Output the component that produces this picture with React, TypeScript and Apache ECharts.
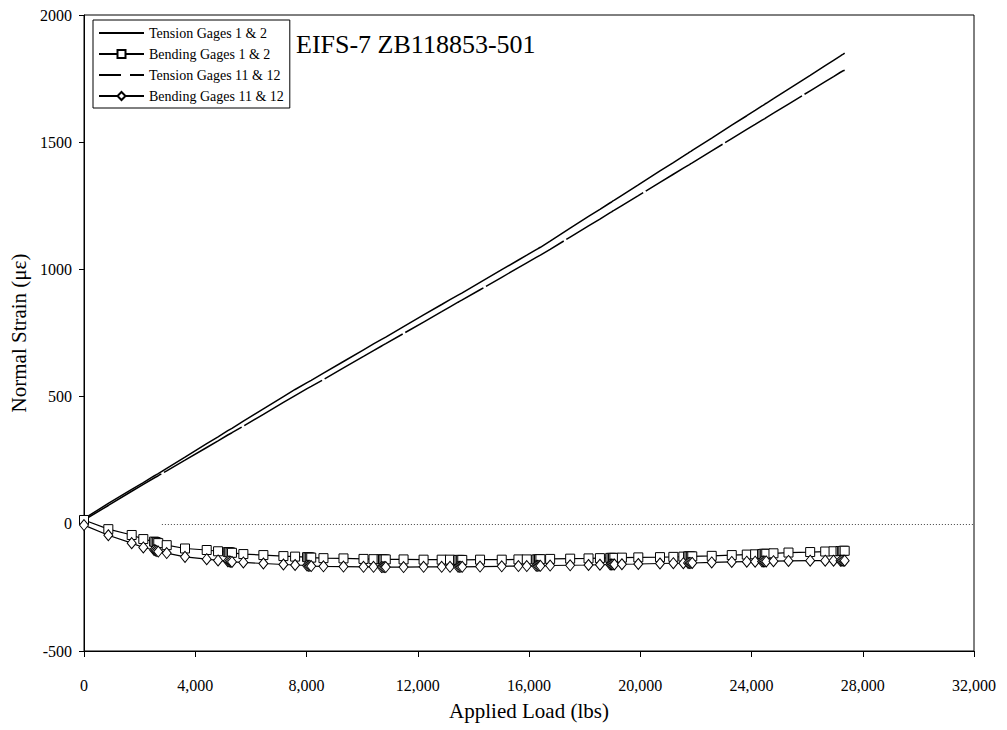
import React, { useEffect, useRef } from "react";
import * as echarts from "echarts";

const loads = [
  0, 875, 1715, 2133, 2520, 2570, 2620, 2670, 2974, 3632, 4412, 4820, 5170, 5220, 5270, 5320,
  5730, 6450, 7170, 7590, 8020, 8070, 8120, 8170, 8610, 9330, 10050, 10410, 10700, 10750, 10800,
  10850, 11490, 12210, 12860, 13160, 13450, 13500, 13550, 13600, 14240, 15020, 15620, 15920,
  16260, 16310, 16360, 16410, 16760, 17480, 18140, 18550, 18920, 18970, 19020, 19070, 19340,
  19930, 20710, 21190, 21550, 21720, 21770, 21820, 21870, 22570, 23290, 23830, 24130, 24380,
  24430, 24480, 24530, 24790, 25330, 26110, 26650, 26950, 27200, 27250, 27300, 27350,
];

const tension12 = [
  20, 80, 135, 162, 188, 191, 194, 197, 218, 262, 315, 342, 366, 369, 372, 375,
  404, 452, 500, 528, 555, 558, 561, 564, 592, 638, 684, 707, 725, 728, 731,
  734, 775, 821, 862, 881, 899, 902, 905, 908, 949, 999, 1037, 1056,
  1078, 1081, 1084, 1087, 1111, 1162, 1208, 1236, 1262, 1265, 1269, 1272, 1291,
  1332, 1387, 1420, 1445, 1457, 1461, 1464, 1468, 1516, 1567, 1604, 1625, 1643,
  1646, 1650, 1653, 1671, 1709, 1763, 1801, 1822, 1839, 1843, 1846, 1850,
];

const tension1112 = [
  15, 72, 128, 155, 180, 183, 186, 189, 208, 250, 300, 326, 349, 352, 355, 358,
  384, 430, 477, 504, 531, 534, 537, 540, 567, 613, 658, 681, 699, 702, 705,
  708, 748, 793, 834, 853, 871, 874, 877, 880, 920, 969, 1007, 1026,
  1047, 1050, 1053, 1056, 1079, 1127, 1171, 1198, 1223, 1226, 1230, 1233, 1251,
  1290, 1342, 1374, 1398, 1409, 1412, 1416, 1419, 1466, 1514, 1550, 1570, 1587,
  1590, 1593, 1597, 1614, 1650, 1702, 1738, 1758, 1775, 1778, 1781, 1783,
];

const bending12 = [
  15, -21, -44, -60, -70, -72, -74, -76, -84, -97, -103, -108, -111, -112, -113, -114,
  -119, -123, -127, -129, -131, -132, -132, -133, -135, -136, -138, -139, -139, -140, -140,
  -140, -140, -141, -141, -141, -142, -142, -142, -142, -141, -141, -140, -140,
  -140, -140, -139, -139, -138, -137, -136, -135, -134, -134, -134, -134, -133,
  -132, -131, -130, -129, -128, -128, -128, -128, -126, -123, -121, -120, -119,
  -118, -118, -118, -116, -113, -111, -109, -108, -107, -107, -106, -106,
];

const bending1112 = [
  -5, -45, -76, -93, -103, -105, -107, -109, -115, -130, -139, -144, -147, -148, -149, -150,
  -152, -156, -160, -162, -164, -165, -165, -166, -167, -168, -169, -169, -170, -170, -170,
  -170, -170, -169, -169, -169, -169, -169, -169, -169, -168, -167, -166, -166,
  -165, -165, -165, -165, -164, -163, -162, -161, -160, -160, -160, -160, -159,
  -158, -156, -155, -155, -154, -154, -154, -154, -152, -150, -149, -149, -148,
  -148, -148, -148, -147, -146, -145, -145, -145, -145, -145, -145, -145,
];

const seriesNames = [
  "Tension Gages 1 & 2",
  "Bending Gages 1 & 2",
  "Tension Gages 11 & 12",
  "Bending Gages 11 & 12",
];

const zeroLineStart = 2800;
const xMin = 0;
const xMax = 32000;
const xStep = 4000;
const yMin = -500;
const yMax = 2000;
const yStep = 500;

const titleText = "EIFS-7 ZB118853-501";
const xName = "Applied Load (lbs)";
const yName = "Normal Strain (\u03bc\u03b5)";

const FONT = "'Liberation Serif', 'Times New Roman', serif";

function pairs(ys: number[]) {
  return loads.map((x, i) => [x, ys[i]]);
}

export default function App() {
  const ref = useRef<HTMLDivElement>(null);
  useEffect(() => {
    if (!ref.current) return;
    const chart = echarts.init(ref.current, undefined, { renderer: "svg" });
    const markerStyle = { color: "#fff", borderColor: "#000", borderWidth: 1 };
    const hiddenSymbol = { color: "transparent", borderColor: "transparent", borderWidth: 0, opacity: 0 };
    chart.setOption({
      animation: false,
      backgroundColor: "#fff",
      textStyle: { fontFamily: FONT, color: "#000" },
      title: {
        text: titleText,
        left: 296,
        top: 31,
        padding: 0,
        textStyle: { fontFamily: FONT, fontSize: 26, fontWeight: "normal", color: "#000" },
      },
      legend: {
        orient: "vertical",
        left: 93,
        top: 20,
        padding: [6, 6, 5, 5],
        itemWidth: 45,
        itemHeight: 10,
        itemGap: 7,
        borderColor: "#000",
        borderWidth: 1,
        backgroundColor: "#fff",
        textStyle: { fontFamily: FONT, fontSize: 14, color: "#000" },
        data: [
          { name: seriesNames[0], itemStyle: hiddenSymbol },
          { name: seriesNames[1] },
          { name: seriesNames[2], itemStyle: hiddenSymbol, lineStyle: { type: [22, 9] } },
          { name: seriesNames[3] },
        ],
      },
      grid: {
        left: 84,
        right: 33,
        top: 15,
        bottom: 79,
        outerBoundsMode: "none",
        containLabel: false,
        show: true,
        borderColor: "#000",
        borderWidth: 1,
        backgroundColor: "transparent",
      },
      xAxis: {
        type: "value",
        min: xMin,
        max: xMax,
        interval: xStep,
        name: xName,
        nameLocation: "middle",
        nameGap: 49,
        nameTextStyle: { fontFamily: FONT, fontSize: 21, color: "#000" },
        axisLine: { onZero: false, lineStyle: { color: "#000", width: 1 } },
        axisTick: { inside: false, length: 6, lineStyle: { color: "#000" } },
        axisLabel: {
          margin: 26,
          fontFamily: FONT,
          fontSize: 16,
          color: "#000",
          formatter: (v: number) => v.toLocaleString("en-US"),
        },
        splitLine: { show: false },
      },
      yAxis: {
        type: "value",
        min: yMin,
        max: yMax,
        interval: yStep,
        name: yName,
        nameLocation: "middle",
        nameGap: 51,
        nameTextStyle: { fontFamily: FONT, fontSize: 21, color: "#000" },
        axisLine: { show: true, lineStyle: { color: "#000", width: 1 } },
        axisTick: { show: true, inside: false, length: 5, lineStyle: { color: "#000" } },
        axisLabel: {
          margin: 12,
          fontFamily: FONT,
          fontSize: 16,
          color: "#000",
          formatter: (v: number) => String(v),
        },
        splitLine: { show: false },
      },
      series: [
        {
          name: seriesNames[0],
          type: "line",
          data: pairs(tension12),
          symbol: "none",
          lineStyle: { color: "#000", width: 1.5 },
          itemStyle: { color: "#000" },
          markLine: {
            silent: true,
            symbol: "none",
            label: { show: false },
            lineStyle: { color: "#444", width: 1, type: [1, 2] },
            data: [[{ coord: [zeroLineStart, 0] }, { coord: [xMax, 0] }]],
          },
        },
        {
          name: seriesNames[1],
          type: "line",
          data: pairs(bending12),
          symbol: "rect",
          symbolSize: 9,
          showAllSymbol: true,
          lineStyle: { color: "#000", width: 1.2 },
          itemStyle: markerStyle,
        },
        {
          name: seriesNames[2],
          type: "line",
          data: pairs(tension1112),
          symbol: "none",
          lineStyle: { color: "#000", width: 1.5, type: [90, 3] },
          itemStyle: { color: "#000" },
        },
        {
          name: seriesNames[3],
          type: "line",
          data: pairs(bending1112),
          symbol: "diamond",
          symbolSize: [9, 11],
          showAllSymbol: true,
          lineStyle: { color: "#000", width: 1.2 },
          itemStyle: markerStyle,
        },
      ],
    });
    return () => chart.dispose();
  }, []);
  return (
    <div
      ref={ref}
      style={{ position: "fixed", left: 0, top: 0, width: 1007, height: 730, background: "#fff" }}
    />
  );
}
